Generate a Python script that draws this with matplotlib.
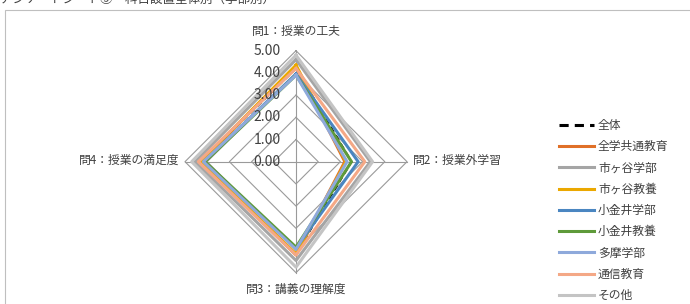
import matplotlib.pyplot as plt
import matplotlib.patches as mpatches
import numpy as np

plt.rcParams['font.family'] = ['Noto Sans CJK JP', 'DejaVu Sans']

# 設問（レーダーの軸）
questions = ['問1：授業の工夫', '問2：授業外学習', '問3：講義の理解度', '問4：授業の満足度']
ticks = [0, 1, 2, 3, 4, 5]
tick_labels = ['0.00', '1.00', '2.00', '3.00', '4.00', '5.00']

# 系列名
series = ['全体', '全学共通教育', '市ヶ谷学部', '市ヶ谷教養', '小金井学部',
          '小金井教養', '多摩学部', '通信教育', 'その他']

# 各系列の値（問1〜問4）
zentai = [4.20, 2.50, 4.15, 4.30]
zengaku = [4.30, 2.20, 4.20, 4.30]
ichigaya_gakubu = [4.60, 3.35, 4.45, 4.55]
ichigaya_kyoyo = [4.35, 2.25, 4.15, 4.30]
koganei_gakubu = [3.95, 2.80, 3.90, 4.15]
koganei_kyoyo = [3.90, 2.50, 3.85, 4.10]
tama = [3.90, 2.30, 3.95, 4.17]
tsushin = [4.20, 3.10, 4.20, 4.40]
sonota = [4.80, 3.45, 4.75, 4.70]
values = [zentai, zengaku, ichigaya_gakubu, ichigaya_kyoyo, koganei_gakubu,
          koganei_kyoyo, tama, tsushin, sonota]

colors = ['black', '#E07028', '#A5A5A5', '#EBA800', '#4A86C1',
          '#5E9A3A', '#8EA9DB', '#F4A886', '#C4C4C4']

W, H = 690, 304
fig = plt.figure(figsize=(W / 100, H / 100), dpi=100)

# 上部の見切れたタイトル
fig.text(0.0, 1.0, 'アンケートシート⑤　科目設置全体別（学部別）', fontsize=9,
         color='#404040', va='center', ha='left')

# グラフ枠
fig.patches.append(mpatches.Rectangle((5 / W, -0.1), 1.0, (H - 10) / H + 0.1,
                                      transform=fig.transFigure, fill=False,
                                      edgecolor='#BFBFBF', linewidth=0.8))

# レーダー部分（中心 296,161.7 / 1目盛 22.2px）
cx, cy, unit = 296, H - 161.7, 22.2
half = 6
ax = fig.add_axes([(cx - half * unit) / W, (cy - half * unit) / H,
                   2 * half * unit / W, 2 * half * unit / H])
ax.set_xlim(-half, half)
ax.set_ylim(-half, half)
ax.axis('off')

angles = np.array([0, 0.5, 1.0, 1.5]) * np.pi


def to_xy(vals):
    r = np.array(vals + vals[:1], dtype=float)
    a = np.append(angles, angles[0])
    return r * np.sin(a), r * np.cos(a)


# 目盛線
for t in ticks[1:]:
    gx, gy = to_xy([t] * 4)
    ax.plot(gx, gy, color='#9A9A9A', lw=0.8, zorder=1)
for a in angles:
    ax.plot([0, 5 * np.sin(a)], [0, 5 * np.cos(a)], color='#9A9A9A', lw=0.8, zorder=1)

for t, lab in zip(ticks, tick_labels):
    ax.text(-0.7, t, lab, ha='right', va='center', fontsize=10, color='#404040', zorder=5)

# 系列（全体は他の線の下に隠れる）
for name, vals, c in zip(series, values, colors):
    x, y = to_xy(vals)
    if name == '全体':
        ax.plot(x, y, color=c, lw=1.4, ls=(0, (3, 2)), zorder=2)
        ax.plot([], [], color=c, lw=2.2, ls=(0, (3, 2)), label=name)
    else:
        ax.plot(x, y, color=c, lw=2.2, label=name, zorder=3)

# 軸ラベル
fig.text(296 / W, (H - 31) / H, questions[0], ha='center', va='center', fontsize=8.5, color='#404040')
fig.text(413 / W, (H - 160) / H, questions[1], ha='left', va='center', fontsize=8.5, color='#404040')
fig.text(296 / W, (H - 289) / H, questions[2], ha='center', va='center', fontsize=8.5, color='#404040')
fig.text(179 / W, (H - 160) / H, questions[3], ha='right', va='center', fontsize=8.5, color='#404040')

# 凡例
leg = fig.legend(loc='upper left', bbox_to_anchor=(559 / W, (H - 119) / H),
                 frameon=False, fontsize=8.5, handlelength=3.0, handletextpad=0.3,
                 labelspacing=0.7, borderpad=0, borderaxespad=0)
for t in leg.get_texts():
    t.set_color('#404040')

fig.savefig('out.png', dpi=100)
